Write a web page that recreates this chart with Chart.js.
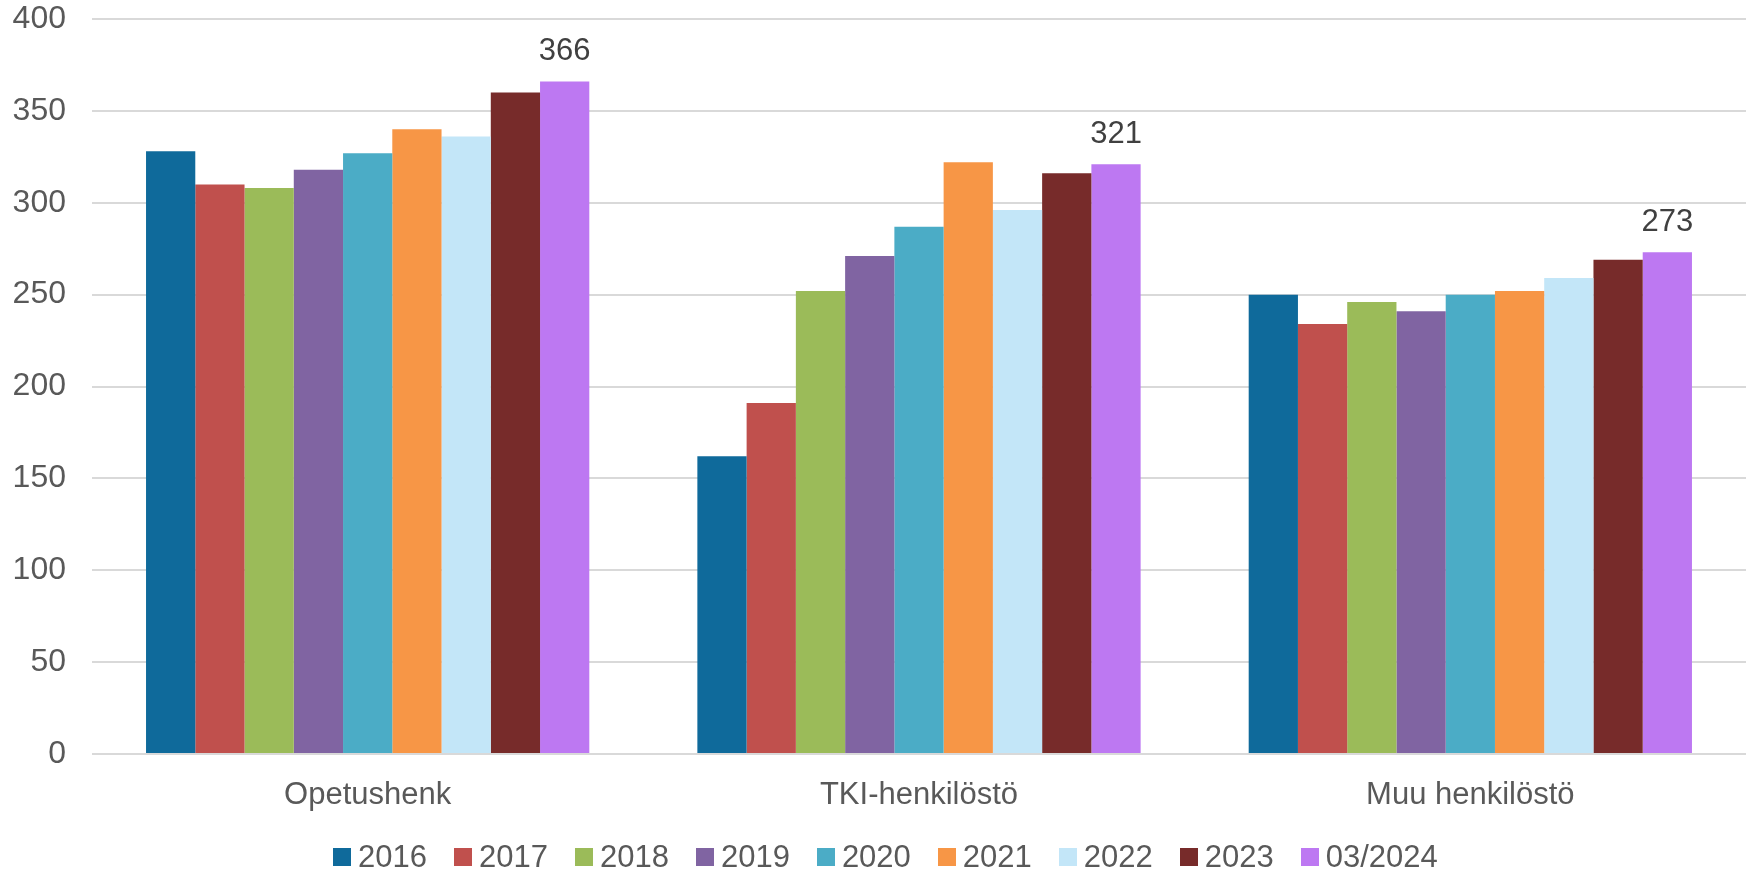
<!DOCTYPE html>
<html>
<head>
<meta charset="utf-8">
<script src="https://cdn.jsdelivr.net/npm/chart.js@4.4.1/dist/chart.umd.min.js"></script>
<style>
  body { margin: 0; background: #fff; }
  #wrap { position: relative; width: 1746px; height: 869px; }
  #legend {
    position: absolute; left: 333px; top: 839px;
    display: flex; align-items: center;
    font-family: "Liberation Sans", Arial, sans-serif; font-size: 31px; color: #595959;
  }
  .item { display: flex; align-items: center; margin-right: 27px; }
  .box { width: 18px; height: 18px; margin-right: 7px; }
</style>
</head>
<body>
<div id="wrap">
  <canvas id="chart" width="1746" height="869"></canvas>
  <div id="legend"></div>
</div>
<script>
// categories and series
const categories = ['Opetushenk', 'TKI-henkilöstö', 'Muu henkilöstö'];
const seriesNames = ['2016', '2017', '2018', '2019', '2020', '2021', '2022', '2023', '03/2024'];
const seriesColors = ['#0F6A9B', '#C0504D', '#9BBB59', '#8064A2', '#4BACC6', '#F79646', '#C3E6F8', '#772B2A', '#BD78F2'];

const v2016 = [328, 162, 250];
const v2017 = [310, 191, 234];
const v2018 = [308, 252, 246];
const v2019 = [318, 271, 241];
const v2020 = [327, 287, 250];
const v2021 = [340, 322, 252];
const v2022 = [336, 296, 259];
const v2023 = [360, 316, 269];
const v2024 = [366, 321, 273];
const seriesValues = [v2016, v2017, v2018, v2019, v2020, v2021, v2022, v2023, v2024];

const yTicks = { min: 0, max: 400, step: 50 };

const FONT = '"Liberation Sans", Arial, sans-serif';

// value labels only on the last series
const lastLabels = {
  id: 'lastLabels',
  afterDatasetsDraw(chart) {
    const ctx = chart.ctx;
    const idx = chart.data.datasets.length - 1;
    const meta = chart.getDatasetMeta(idx);
    ctx.save();
    ctx.font = '31px ' + FONT;
    ctx.fillStyle = '#404040';
    ctx.textAlign = 'center';
    ctx.textBaseline = 'alphabetic';
    meta.data.forEach((bar, i) => {
      ctx.fillText(String(chart.data.datasets[idx].data[i]), bar.x, bar.y - 21);
    });
    ctx.restore();
  }
};

const chart = new Chart(document.getElementById('chart'), {
  type: 'bar',
  data: {
    labels: categories,
    datasets: seriesNames.map((name, i) => ({
      label: name,
      data: seriesValues[i],
      backgroundColor: seriesColors[i],
      borderWidth: 0,
      barPercentage: 1,
      categoryPercentage: 0.804,
    })),
  },
  options: {
    responsive: false,
    devicePixelRatio: 1,
    animation: false,
    layout: { padding: { top: 19, right: 0, left: 0, bottom: 0 } },
    plugins: {
      legend: { display: false },
      tooltip: { enabled: false },
    },
    scales: {
      x: {
        grid: { display: false, drawTicks: false },
        border: { display: false },
        ticks: { font: { family: FONT, size: 31 }, color: '#595959', padding: 23 },
        afterFit: (s) => { s.height = 115; },
      },
      y: {
        min: yTicks.min,
        max: yTicks.max,
        ticks: { stepSize: yTicks.step, font: { family: FONT, size: 32 }, color: '#595959', padding: 26 },
        grid: { color: '#D9D9D9', lineWidth: 2, drawTicks: false },
        border: { display: false },
        afterFit: (s) => { s.width = 92; s.paddingTop = 0; s.paddingBottom = 0; },
      },
    },
  },
  plugins: [lastLabels],
});

// legend built from the same arrays
const legend = document.getElementById('legend');
seriesNames.forEach((name, i) => {
  const item = document.createElement('div');
  item.className = 'item';
  const box = document.createElement('span');
  box.className = 'box';
  box.style.background = seriesColors[i];
  const txt = document.createElement('span');
  txt.textContent = name;
  item.appendChild(box);
  item.appendChild(txt);
  legend.appendChild(item);
});
</script>
</body>
</html>
